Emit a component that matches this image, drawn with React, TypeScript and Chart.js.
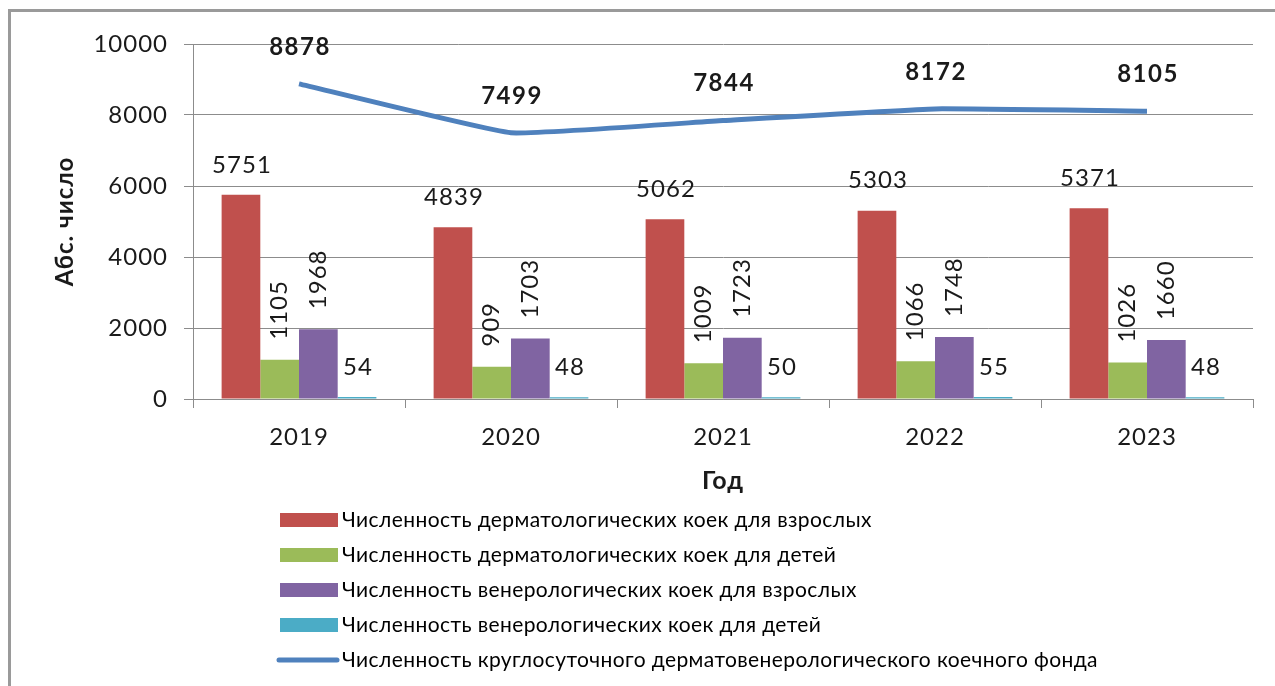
import React, { useEffect, useRef } from "react";
import { Chart, registerables } from "chart.js";

Chart.register(...registerables);

const years = ["2019", "2020", "2021", "2022", "2023"];
const dermAdults = [5751, 4839, 5062, 5303, 5371];
const dermChildren = [1105, 909, 1009, 1066, 1026];
const venAdults = [1968, 1703, 1723, 1748, 1660];
const venChildren = [54, 48, 50, 55, 48];
const totalBeds = [8878, 7499, 7844, 8172, 8105];

const seriesLabels = [
  "Численность дерматологических коек для взрослых",
  "Численность дерматологических коек для детей",
  "Численность венерологических коек для взрослых",
  "Численность венерологических коек для детей",
  "Численность круглосуточного дерматовенерологического коечного фонда",
];
const yAxisTitle = "Абс. число";
const xAxisTitle = "Год";

const FONT = "Lato";
const TEXT = "#1a1a1a";
const GRID = "#8c8c8c";

const spacing = {
  id: "spacing",
  beforeDraw(chart: any) {
    chart.ctx.letterSpacing = "1px";
  },
};

const valueLabels = {
  id: "valueLabels",
  afterDatasetsDraw(chart: any) {
    const ctx = chart.ctx;
    chart.data.datasets.forEach((ds: any, i: number) => {
      const meta = chart.getDatasetMeta(i);
      const mode = ds.labelMode;
      meta.data.forEach((el: any, j: number) => {
        const v = String(ds.data[j]);
        ctx.save();
        ctx.fillStyle = TEXT;
        ctx.letterSpacing = "1px";
        if (mode === "line") {
          ctx.font = `bold 24px ${FONT}`;
          ctx.letterSpacing = "1.5px";
          ctx.textAlign = "center";
          ctx.textBaseline = "middle";
          ctx.fillText(v, el.x + 1, el.y - 37);
        } else if (mode === "h") {
          ctx.font = `24px ${FONT}`;
          ctx.textAlign = "center";
          ctx.textBaseline = "middle";
          ctx.fillText(v, el.x + 1, el.y - 30);
        } else {
          ctx.font = `24px ${FONT}`;
          ctx.translate(el.x, el.y - 20);
          ctx.rotate(-Math.PI / 2);
          ctx.textAlign = "left";
          ctx.textBaseline = "middle";
          ctx.fillText(v, 0, 0);
        }
        ctx.restore();
      });
    });
  },
};

const verticalLegend = {
  id: "verticalLegend",
  afterDraw(chart: any) {
    const ctx = chart.ctx;
    const left = 269;
    const top = 508;
    const step = 35;
    chart.data.datasets.forEach((ds: any, i: number) => {
      const y = top + i * step;
      ctx.save();
      if (ds.type === "line") {
        ctx.strokeStyle = ds.borderColor;
        ctx.lineWidth = 5;
        ctx.lineCap = "round";
        ctx.beginPath();
        ctx.moveTo(left - 1, y);
        ctx.lineTo(left + 57, y);
        ctx.stroke();
      } else {
        ctx.fillStyle = ds.backgroundColor;
        ctx.fillRect(left, y - 7, 58, 14);
      }
      ctx.fillStyle = "#000";
      ctx.font = `21px ${FONT}`;
      ctx.letterSpacing = "0.4px";
      ctx.textAlign = "left";
      ctx.textBaseline = "middle";
      ctx.fillText(ds.label, left + 62, y);
      ctx.restore();
    });
  },
};

export default function App() {
  const ref = useRef<HTMLCanvasElement | null>(null);

  useEffect(() => {
    if (!ref.current) return;
    const chart = new Chart(ref.current, {
      type: "bar",
      data: {
        labels: years,
        datasets: [
          {
            label: seriesLabels[0],
            data: dermAdults,
            backgroundColor: "#C0504D",
            order: 1,
            labelMode: "h",
          } as any,
          {
            label: seriesLabels[1],
            data: dermChildren,
            backgroundColor: "#9BBB59",
            order: 1,
            labelMode: "v",
          } as any,
          {
            label: seriesLabels[2],
            data: venAdults,
            backgroundColor: "#8064A2",
            order: 1,
            labelMode: "v",
          } as any,
          {
            label: seriesLabels[3],
            data: venChildren,
            backgroundColor: "#4BACC6",
            order: 1,
            labelMode: "h",
          } as any,
          {
            type: "line",
            label: seriesLabels[4],
            data: totalBeds,
            borderColor: "#4F81BD",
            backgroundColor: "#4F81BD",
            borderWidth: 5,
            pointRadius: 0,
            tension: 0.1,
            order: 0,
            labelMode: "line",
          } as any,
        ],
      },
      options: {
        responsive: false,
        animation: false,
        devicePixelRatio: 1,
        datasets: { bar: { categoryPercentage: 0.73, barPercentage: 1 } },
        layout: { padding: { top: 32, left: 0, right: 22, bottom: 177 } },
        plugins: {
          legend: { display: false },
          tooltip: { enabled: false },
        },
        scales: {
          x: {
            afterFit: (s: any) => {
              s.height = 110;
            },
            grid: {
              display: true,
              drawOnChartArea: false,
              drawTicks: true,
              tickLength: 9,
              color: GRID,
            },
            border: { display: true, color: GRID },
            ticks: {
              color: TEXT,
              font: { family: FONT, size: 24 },
              padding: 15,
            },
            title: {
              display: true,
              text: xAxisTitle,
              color: TEXT,
              font: { family: FONT, size: 25, weight: "bold" },
              padding: { top: 0, bottom: 13 },
            },
          },
          y: {
            min: 0,
            max: 10000,
            afterFit: (s: any) => {
              s.width = 182;
            },
            ticks: {
              stepSize: 2000,
              color: TEXT,
              font: { family: FONT, size: 24 },
              padding: 16,
              callback: (v: any) => String(v),
            },
            grid: { color: GRID, tickLength: 9 },
            border: { display: true, color: GRID },
            title: {
              display: true,
              text: yAxisTitle,
              color: TEXT,
              font: { family: FONT, size: 24, weight: "bold" },
              padding: { top: 40, bottom: 0 },
            },
          },
        },
      },
      plugins: [spacing, valueLabels, verticalLegend],
    });
    return () => chart.destroy();
  }, []);

  return (
    <div
      style={{
        position: "absolute",
        left: 8,
        top: 9,
        borderTop: "3px solid #9a9a9a",
        borderLeft: "3px solid #9a9a9a",
        width: 1264,
        height: 674,
        background: "#fff",
      }}
    >
      <canvas ref={ref} width={1264} height={674} style={{ display: "block" }} />
    </div>
  );
}
